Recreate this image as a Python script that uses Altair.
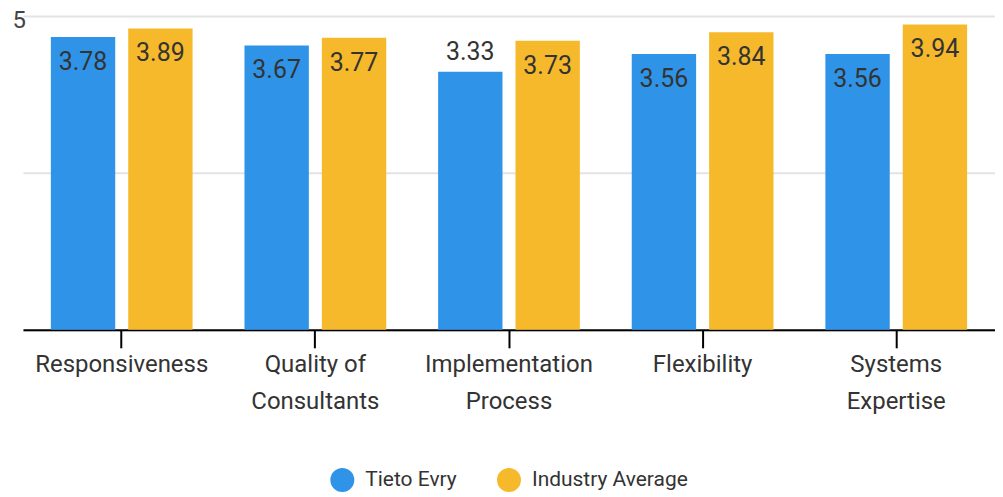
import json
import altair as alt
import pandas as pd

categories = ["Responsiveness", "Quality of Consultants", "Implementation Process", "Flexibility", "Systems Expertise"]
category_lines = [["Responsiveness"], ["Quality of", "Consultants"], ["Implementation", "Process"], ["Flexibility"], ["Systems", "Expertise"]]
series = ["Tieto Evry", "Industry Average"]
tieto_values = [3.78, 3.67, 3.33, 3.56, 3.56]
industry_values = [3.89, 3.77, 3.73, 3.84, 3.94]
colors = ["#2F93E8", "#F6B92B"]
y_max = 4.05
y_tick_values = [0, 2.025, 4.05]
y_tick_labels = ["", "", "5"]
outside_threshold = 3.4

rows = []
for c, a, b in zip(categories, tieto_values, industry_values):
    rows.append({"category": c, "series": series[0], "value": a})
    rows.append({"category": c, "series": series[1], "value": b})
df = pd.DataFrame(rows)

# label expressions built from the lists
x_expr = "datum.label"
for c, lines in reversed(list(zip(categories, category_lines))):
    x_expr = f"datum.label == {json.dumps(c)} ? {json.dumps(lines)} : ({x_expr})"
y_expr = "''"
for v, lab in zip(y_tick_values, y_tick_labels):
    y_expr = f"datum.value == {v} ? {json.dumps(lab)} : ({y_expr})"

FONT = "Roboto"
TXT = "#333333"

base = alt.Chart(df).encode(
    x=alt.X(
        "category:N",
        sort=categories,
        title=None,
        scale=alt.Scale(paddingInner=0.268, paddingOuter=0.144),
        axis=alt.Axis(
            labelAngle=0,
            labelExpr=x_expr,
            labelFont=FONT,
            labelFontSize=24,
            labelColor=TXT,
            labelLineHeight=37,
            labelBaseline="top",
            labelPadding=5,
            domainColor="#000000",
            domainWidth=2,
            tickColor="#000000",
            tickWidth=2,
            tickSize=18,
            grid=False,
        ),
    ),
    xOffset=alt.XOffset("series:N", sort=series, scale=alt.Scale(paddingInner=0.168, paddingOuter=0)),
    y=alt.Y(
        "value:Q",
        title=None,
        scale=alt.Scale(domain=[0, y_max], nice=False, zero=True),
        axis=alt.Axis(
            values=y_tick_values,
            labelExpr=y_expr,
            labelFont=FONT,
            labelFontSize=24,
            labelColor="#444444",
            labelAlign="left",
            labelPadding=11,
            labelOffset=5,
            domain=False,
            ticks=False,
            tickSize=0,
            grid=True,
            gridColor="#E3E3E3",
            gridWidth=2,
        ),
    ),
)

bars = base.mark_bar().encode(
    color=alt.Color(
        "series:N",
        sort=series,
        scale=alt.Scale(domain=series, range=colors),
        legend=alt.Legend(
            title=None,
            orient="none",
            legendX=308,
            legendY=453,
            direction="horizontal",
            symbolType="circle",
            symbolSize=576,
            symbolStrokeWidth=0,
            labelFont=FONT,
            labelFontSize=21,
            labelColor=TXT,
            labelOffset=11,
            columnPadding=40,
        ),
    )
)

inside = base.mark_text(dy=25, baseline="middle", font=FONT, fontSize=25, color=TXT).encode(
    text=alt.Text("value:Q", format=".2f")
).transform_filter(f"datum.value >= {outside_threshold}")

outside = base.mark_text(dy=-20, baseline="middle", font=FONT, fontSize=25, color=TXT).encode(
    text=alt.Text("value:Q", format=".2f")
).transform_filter(f"datum.value < {outside_threshold}")

chart = alt.layer(bars, inside, outside).properties(
    width=974,
    height=314.5,
    autosize=alt.AutoSizeParams(type="none"),
    padding={"left": 15, "top": 7.5, "right": 0, "bottom": 165},
).configure_view(stroke=None)

chart.save("out.html", embed_options={"renderer": "svg", "actions": False})
